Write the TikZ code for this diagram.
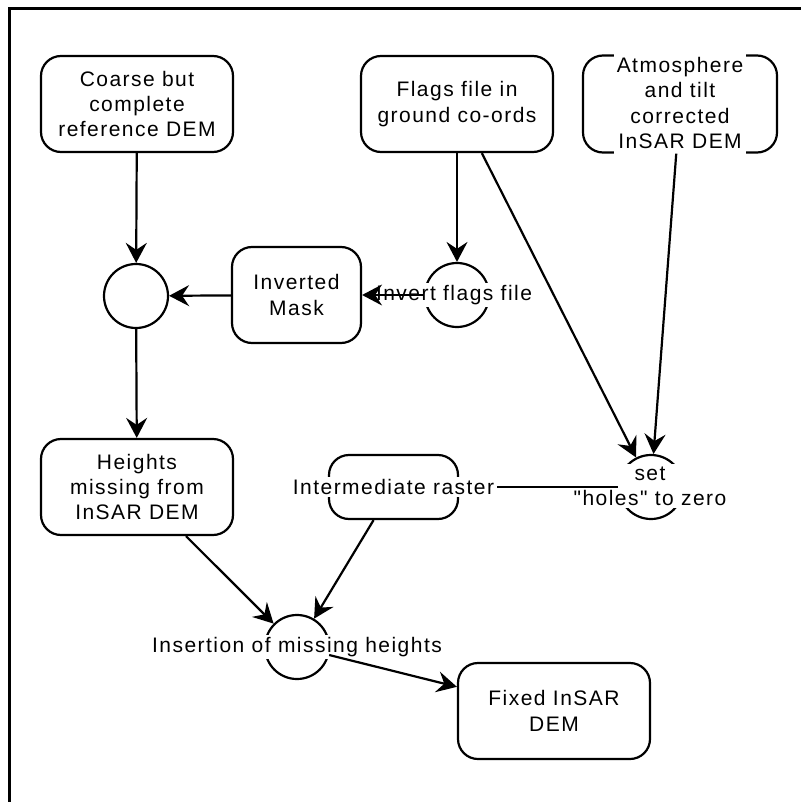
\documentclass[tikz,border=0pt]{standalone}
\usepackage{fontspec}
\setmainfont{Liberation Sans}[LetterSpace=7, Ligatures=TeXOff]
\usetikzlibrary{arrows.meta}
\begin{document}
\begin{tikzpicture}[x=1pt,y=-1pt,
  every node/.style={font=\fontsize{21}{25.3}\selectfont, align=center, inner sep=0pt},
  procbox/.style={draw, line width=2.2pt, rounded corners=20pt},
  opcircle/.style={draw, circle, line width=2.2pt, minimum size=64pt},
  lbl/.style={fill=white, inner xsep=2.5pt, inner ysep=2pt},
  conn/.style={line width=2.2pt, -{Stealth[length=20pt,width=21pt,inset=7pt]}},
  plainconn/.style={line width=2.2pt}]
\useasboundingbox (0,0) rectangle (801,802);
\draw[line width=3pt] (9,802) -- (9,8.7) -- (801,8.7);

\node[procbox, minimum width=192pt, minimum height=96pt] (coarse) at (137,104) {Coarse but\\complete\\reference DEM};
\node[procbox, minimum width=192pt, minimum height=96pt] (flags) at (457,104) {Flags file in\\ground co-ords};
\node[procbox, minimum width=194pt, minimum height=97pt] (atm) at (680,104) {};
\node[lbl, inner ysep=5pt] (atmT) at (680,103) {Atmosphere\\and tilt\\corrected\\InSAR DEM};

\node[opcircle] (mix) at (136,296) {};
\node[procbox, minimum width=129pt, minimum height=96pt] (inv) at (296.5,295) {Inverted\\Mask};
\node[opcircle] (invc) at (457,295) {};
\node[lbl] (invcT) at (454,295) {Invert flags file};

\node[procbox, minimum width=192pt, minimum height=96pt] (heights) at (137,487) {Heights\\missing from\\InSAR DEM};
\node[procbox, minimum width=129pt, minimum height=64pt] (raster) at (393.5,487) {};
\node[lbl] (rasterT) at (393.5,487) {Intermediate raster};
\node[opcircle] (setc) at (651,487) {};
\node[lbl] (setcT) at (650,486) {set\\"holes" to zero};

\node[opcircle] (ins) at (297,647) {};
\node[lbl] (insT) at (297,647) {Insertion of missing heights};
\node[procbox, minimum width=192pt, minimum height=96pt] (fixed) at (554,711) {Fixed InSAR\\DEM};

\draw[conn] (coarse) -- (mix);
\draw[conn] (inv) -- (mix);
\draw[conn] (flags) -- (invc);
\draw[conn] (invc) -- (inv);
\draw[conn] (mix) -- (heights);
\draw[conn] (flags) -- (setc);
\draw[conn] (atm) -- (setc);
\draw[plainconn] (setc) -- (rasterT);
\draw[conn] (heights) -- (ins);
\draw[conn] (raster) -- (ins);
\draw[conn] (ins) -- (fixed);
\end{tikzpicture}
\end{document}
